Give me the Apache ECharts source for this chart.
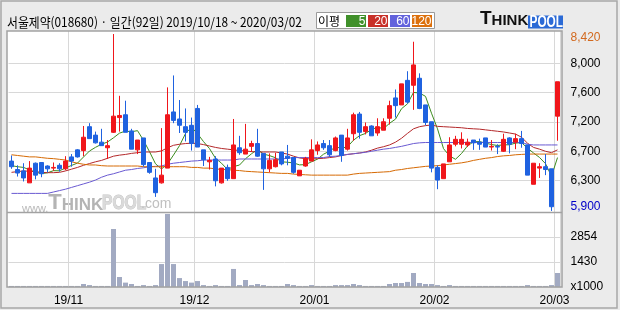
<!DOCTYPE html>
<html><head><meta charset="utf-8">
<script src="https://cdn.jsdelivr.net/npm/echarts@6/dist/echarts.min.js"></script>
<style>html,body{margin:0;padding:0;background:#ebebeb}#c{width:620px;height:310px}</style>
</head><body><div id="c"></div>
<script>
const dates = [
"2019-10-18","2019-10-21","2019-10-22","2019-10-23","2019-10-24","2019-10-25","2019-10-28","2019-10-29","2019-10-30","2019-10-31",
"2019-11-01","2019-11-04","2019-11-05","2019-11-06","2019-11-07","2019-11-08","2019-11-11","2019-11-12","2019-11-13","2019-11-14",
"2019-11-15","2019-11-18","2019-11-19","2019-11-20","2019-11-21","2019-11-22","2019-11-25","2019-11-26","2019-11-27","2019-11-28",
"2019-11-29","2019-12-02","2019-12-03","2019-12-04","2019-12-05","2019-12-06","2019-12-09","2019-12-10","2019-12-11","2019-12-12",
"2019-12-13","2019-12-16","2019-12-17","2019-12-18","2019-12-19","2019-12-20","2019-12-23","2019-12-24","2019-12-26","2019-12-27",
"2019-12-30","2020-01-02","2020-01-03","2020-01-06","2020-01-07","2020-01-08","2020-01-09","2020-01-10","2020-01-13","2020-01-14",
"2020-01-15","2020-01-16","2020-01-17","2020-01-20","2020-01-21","2020-01-22","2020-01-23","2020-01-28","2020-01-29","2020-01-30",
"2020-01-31","2020-02-03","2020-02-04","2020-02-05","2020-02-06","2020-02-07","2020-02-10","2020-02-11","2020-02-12","2020-02-13",
"2020-02-14","2020-02-17","2020-02-18","2020-02-19","2020-02-20","2020-02-21","2020-02-24","2020-02-25","2020-02-26","2020-02-27",
"2020-02-28","2020-03-02"];

const openP = [
6610,6490,6470,6300,6580,6590,6540,6510,6550,6500,
6670,6770,6760,7100,6980,6880,6800,7020,7230,7270,
7040,6770,6940,6590,6370,6300,6510,7310,7210,7100,
7120,7360,6770,6600,6640,6300,6520,6360,6800,6710,
6820,6860,6720,6500,6530,6740,6680,6660,6400,6540,
6610,6760,6860,6830,6760,6980,6780,7000,7280,7030,
7110,7010,7050,7220,7510,7410,7760,7690,7790,7410,
7170,6520,6360,6600,6850,6850,6840,6910,6880,6940,
6810,6820,6750,6940,6880,6930,6840,6280,6510,6530,
6500,7250];
const closeP = [
6530,6440,6370,6510,6410,6430,6500,6520,6500,6610,
6610,6670,6950,6930,6870,6830,6830,7250,7260,7020,
6780,6910,6560,6450,6160,6410,7270,7190,7120,7020,
6860,6810,6630,6620,6330,6510,6360,6840,6730,6780,
6860,6680,6500,6620,6630,6570,6650,6450,6480,6650,
6770,6840,6800,6700,6940,6690,6940,7270,7020,7100,
6970,7100,7170,7400,7400,7710,7450,7980,7360,7160,
6510,6340,6570,6840,6920,6920,6880,6870,6850,6810,
6820,6810,6920,6850,6930,6860,6410,6580,6530,6490,
5960,7740];
const lowP = [
6500,6390,6320,6300,6350,6380,6450,6470,6460,6480,
6530,6660,6680,6930,6860,6830,6640,7010,7030,7020,
6780,6710,6530,6430,6100,6290,6510,7150,7010,6890,
6760,6810,6540,6490,6250,6290,6330,6360,6700,6710,
6740,6670,6200,6450,6520,6550,6550,6430,6400,6530,
6610,6700,6770,6670,6750,6600,6760,6900,6930,6990,
6970,6970,7050,7130,7230,7410,7430,7340,7350,7120,
6450,6210,6360,6600,6820,6790,6810,6770,6770,6810,
6760,6710,6740,6720,6780,6800,6410,6280,6370,6410,
5900,6900];
const highP = [
6690,6550,6580,6610,6590,6590,6550,6590,6580,6680,
6710,6780,7110,7150,7030,7070,6910,8420,7540,7470,
7070,6910,6940,6590,6500,7080,7660,7830,7480,7360,
7230,7410,6770,6670,6680,6510,6560,7210,6970,7140,
6900,7070,6720,6720,6730,6740,6840,6660,6480,6670,
6920,6890,6910,6910,6960,6980,7070,7300,7310,7160,
7120,7220,7220,7470,7630,7710,7890,8310,7860,7410,
7170,6550,6570,6950,6970,7020,6930,6910,6930,6940,
6910,6850,7000,6950,7000,7040,6840,6580,6580,6710,
6500,7740];
const volume = [
60,60,60,60,60,60,60,60,60,60,
60,60,170,110,60,60,60,3310,570,250,
170,60,110,60,110,1310,4170,1310,510,340,
250,340,110,60,110,60,60,1030,110,400,
110,170,110,60,60,60,170,110,60,60,
110,60,60,60,110,110,110,170,110,60,
60,60,60,170,230,230,290,800,230,170,
170,110,60,110,60,60,60,60,60,60,
60,60,60,60,60,60,110,60,60,60,
110,800];
const ma5 = [
6545,6530,6520,6485,6452,6432,6444,6474,6472,6512,
6548,6582,6668,6754,6806,6850,6882,6942,7008,7038,
7028,7044,6906,6744,6572,6498,6570,6696,6830,7002,
7092,7000,6888,6788,6650,6580,6490,6532,6554,6644,
6714,6778,6710,6688,6658,6600,6594,6584,6556,6560,
6600,6638,6708,6752,6810,6794,6814,6908,6972,7004,
7060,7092,7072,7148,7208,7356,7426,7588,7580,7532,
7292,7070,6788,6684,6636,6718,6826,6886,6888,6866,
6846,6832,6842,6842,6866,6874,6794,6726,6662,6574,
6394,6660];
const ma20 = [
6450,6460,6470,6465,6460,6450,6445,6445,6450,6470,
6495,6520,6550,6575,6600,6620,6650,6680,6695,6705,
6720,6730,6740,6740,6740,6755,6800,6835,6850,6860,
6865,6860,6845,6825,6805,6790,6780,6770,6760,6755,
6745,6740,6740,6740,6740,6725,6710,6680,6655,6645,
6640,6645,6650,6660,6670,6690,6705,6715,6725,6740,
6765,6795,6815,6840,6880,6935,7005,7070,7100,7115,
7125,7105,7100,7095,7090,7085,7075,7070,7065,7055,
7045,7035,7025,7010,6995,6950,6865,6805,6780,6750,
6730,6770];
const ma60 = [
6150,6150,6150,6150,6150,6150,6150,6170,6190,6210,
6235,6260,6285,6310,6340,6380,6410,6430,6455,6480,
6490,6505,6515,6530,6535,6540,6565,6580,6590,6600,
6610,6615,6625,6625,6625,6625,6625,6625,6640,6640,
6640,6640,6640,6640,6640,6640,6650,6660,6660,6660,
6660,6660,6660,6675,6680,6690,6705,6715,6725,6735,
6750,6765,6780,6790,6805,6820,6840,6860,6870,6875,
6875,6875,6875,6875,6875,6875,6875,6875,6875,6875,
6875,6875,6875,6875,6875,6875,6850,6840,6840,6840,
6840,6840];
const ma120 = [
6700,6690,6680,6670,6670,6660,6650,6645,6635,6625,
6600,6580,6565,6555,6555,6545,6540,6540,6540,6540,
6540,6540,6530,6530,6530,6530,6530,6530,6530,6530,
6520,6520,6510,6510,6500,6490,6490,6480,6475,6465,
6460,6455,6450,6445,6440,6435,6435,6425,6420,6415,
6410,6410,6410,6410,6410,6410,6410,6425,6435,6440,
6445,6450,6455,6460,6480,6490,6505,6515,6525,6535,
6540,6545,6555,6565,6575,6585,6600,6620,6635,6650,
6660,6675,6685,6690,6700,6705,6710,6710,6710,6710,
6710,6710];

const priceGridValues = [6331, 6749, 7166, 7584, 8002];
const priceLabelValues = [5900, 6331, 6749, 7166, 7584, 8002, 8420];
const priceLabels = ["5,900","6,300","6,700","7,200","7,600","8,000","8,420"];
const volLabels = ["x1000","1430","2854",""];
const monthKeys = ["2019-11","2019-12","2020-01","2020-02","2020-03"];
const monthLabels = ["19/11","19/12","20/01","20/02","20/03"];
const maNames = ["5","20","60","120"];
const maLineColors = ["#3c8c1e","#b4282a","#6a5ad2","#d66a04"];
const maBoxColors = ["#40902a","#c83028","#6262dc","#dc700c"];
const titleText = "서울제약(018680) · 일간(92일) 2019/10/18 ~ 2020/03/02";

const UP = "#f0161b", DOWN = "#1f62e0", GRID = "#d8d8d8";
const isMonthStart = i => i > 0 && dates[i].slice(0,7) !== dates[i-1].slice(0,7);
const nearestIdx = (arr, v) => { let b = 0; arr.forEach((a, k) => { if (Math.abs(a - v) < Math.abs(arr[b] - v)) b = k; }); return b; };

const candles = dates.map((d, i) => [openP[i], closeP[i], lowP[i], highP[i]]);
const maArrays = [ma5, ma20, ma60, ma120];

const chart = echarts.init(document.getElementById('c'), null, {renderer: 'canvas', width: 620, height: 310});

const legendEls = [
  {type:'rect', shape:{x:316.5, y:12.5, width:118, height:16}, style:{fill:'#fff', stroke:'#9a9a9a', lineWidth:1}},
  {type:'text', x:318, y:21, style:{text:'이평', fill:'#000', font:'12px "Noto Sans CJK KR"', align:'left', verticalAlign:'middle'}}
];
maNames.forEach((n, k) => {
  const bx = 346 + k * 22;
  legendEls.push({type:'rect', shape:{x:bx, y:15, width:20, height:12}, style:{fill:maBoxColors[k]}});
  legendEls.push({type:'text', x:bx + 19.5, y:21.5, style:{text:n, fill:'#fff', font:'12px "Liberation Sans"', align:'right', verticalAlign:'middle'}});
});

const option = {
  animation: false,
  backgroundColor: '#ebebeb',
  grid: [
    {left: 8.5, right: 59.5, top: 31, height: 181},
    {left: 8.5, right: 59.5, top: 212, height: 75}
  ],
  xAxis: [0, 1].map(g => ({
    gridIndex: g, type: 'category', data: dates, boundaryGap: true,
    axisLine: {show: false}, axisTick: {show: false},
    axisLabel: g === 0 ? {show: false} : {
      show: true, interval: (i) => isMonthStart(i), margin: 8, padding: [0, 6, 0, 0],
      fontSize: 12, fontFamily: '"Liberation Sans", Arial', color: '#000',
      formatter: (v) => monthLabels[monthKeys.indexOf(v.slice(0,7))]
    },
    splitLine: {show: true, interval: (i) => isMonthStart(i), lineStyle: {color: GRID, width: 1}}
  })),
  yAxis: [
    {
      gridIndex: 0, type: 'value', position: 'right', min: 5885, max: 8463,
      axisLine: {show: false},
      axisTick: {show: false, customValues: priceGridValues},
      splitLine: {show: true, lineStyle: {color: GRID, width: 1}},
      axisLabel: {
        customValues: priceLabelValues, margin: 10, fontSize: 12, fontFamily: '"Liberation Sans", Arial', color: '#000',
        formatter: (v) => {
          const k = nearestIdx(priceLabelValues, v);
          if (k === priceLabelValues.length - 1) return '{hi|' + priceLabels[k] + '}';
          if (k === 0) return '{lo|' + priceLabels[k] + '}';
          return priceLabels[k];
        },
        rich: {
          hi: {color: '#d2691e', fontSize: 12, fontFamily: '"Liberation Sans", Arial', padding: [8, 0, 0, 0]},
          lo: {color: '#0000c8', fontSize: 12, fontFamily: '"Liberation Sans", Arial', padding: [0, 0, 8, 0]}
        }
      }
    },
    {
      gridIndex: 1, type: 'value', position: 'right', min: 0, max: 4281, interval: 1427,
      axisLine: {show: false}, axisTick: {show: false},
      splitLine: {show: true, lineStyle: {color: GRID, width: 1}},
      axisLabel: {margin: 10, fontSize: 12, fontFamily: '"Liberation Sans", Arial', color: '#000',
        formatter: (v, i) => volLabels[i] || ''}
    }
  ],
  series: [
    ...maArrays.map((arr, k) => ({
      type: 'line', xAxisIndex: 0, yAxisIndex: 0, data: arr, symbol: 'none', z: 3,
      lineStyle: {color: maLineColors[k], width: 1}, silent: true
    })),
    {
      type: 'candlestick', xAxisIndex: 0, yAxisIndex: 0, data: candles, barWidth: 4, z: 5,
      itemStyle: {color: UP, color0: DOWN, borderColor: UP, borderColor0: DOWN, borderWidth: 1}
    },
    {
      type: 'bar', xAxisIndex: 1, yAxisIndex: 1, data: volume, barWidth: 5,
      itemStyle: {color: '#a2aac2'}
    }
  ],
  graphic: [
    {type:'rect', z:-10, shape:{x:7, y:31, width:555, height:256}, style:{fill:'#fff'}},
    {type:'text', z:-5, x:22, y:203, style:{text:'{a|www.}{b|T}{c|HINK}', rich:{
      a:{fontSize:11, fontFamily:'"Liberation Sans"', fill:'#b8b8b8', verticalAlign:'bottom'},
      b:{fontSize:22, fontWeight:'bold', fontFamily:'"Liberation Sans"', fill:'#b4b4b4', verticalAlign:'bottom'},
      c:{fontSize:17, fontWeight:'bold', fontFamily:'"Liberation Sans"', fill:'#b4b4b4', verticalAlign:'bottom'}
    }, align:'left', verticalAlign:'middle'}},
    {type:'text', z:-5, x:102, y:203, scaleX:0.78, style:{text:'POOL', font:'bold 20px "Liberation Sans"', fill:'#dadada', stroke:'#c4c4c4', lineWidth:1, align:'left', verticalAlign:'middle'}},
    {type:'text', z:-5, x:141, y:204.5, style:{text:'.com', font:'14px "Liberation Sans"', fill:'#c0c0c0', align:'left', verticalAlign:'middle'}},
    {type:'rect', z:50, shape:{x:7, y:31, width:555, height:256}, style:{fill:'none', stroke:'#a2a2a2', lineWidth:1.5}},
    {type:'line', z:50, shape:{x1:7, y1:212.5, x2:562, y2:212.5}, style:{stroke:'#a2a2a2', lineWidth:1.5}},
    {type:'rect', z:50, shape:{x:1, y:1, width:616, height:307}, style:{fill:'none', stroke:'#a8a8a8', lineWidth:1.5}},
    {type:'text', x:7, y:22, scaleX:0.91, style:{text:titleText, fill:'#000', font:'13px "Noto Sans CJK KR"', align:'left', verticalAlign:'middle'}},
    {type:'group', children: legendEls},
    {type:'text', x:480, y:28.5, style:{text:'{t|T}{h|HINK}', rich:{
      t:{fontSize:19, fontWeight:'bold', fontFamily:'"Liberation Sans"', fill:'#111', verticalAlign:'bottom'},
      h:{fontSize:15, fontWeight:'bold', fontFamily:'"Liberation Sans"', fill:'#111', verticalAlign:'bottom'}
    }, align:'left', verticalAlign:'bottom'}},
    {type:'rect', shape:{x:528, y:15.5, width:35, height:13}, style:{fill:'#2b6ad6'}},
    {type:'text', x:529.5, y:22.3, scaleX:0.74, style:{text:'POOL', font:'bold 16px "Liberation Sans"', fill:'#fff', align:'left', verticalAlign:'middle'}}
  ]
};
chart.setOption(option);
</script>
</body></html>
